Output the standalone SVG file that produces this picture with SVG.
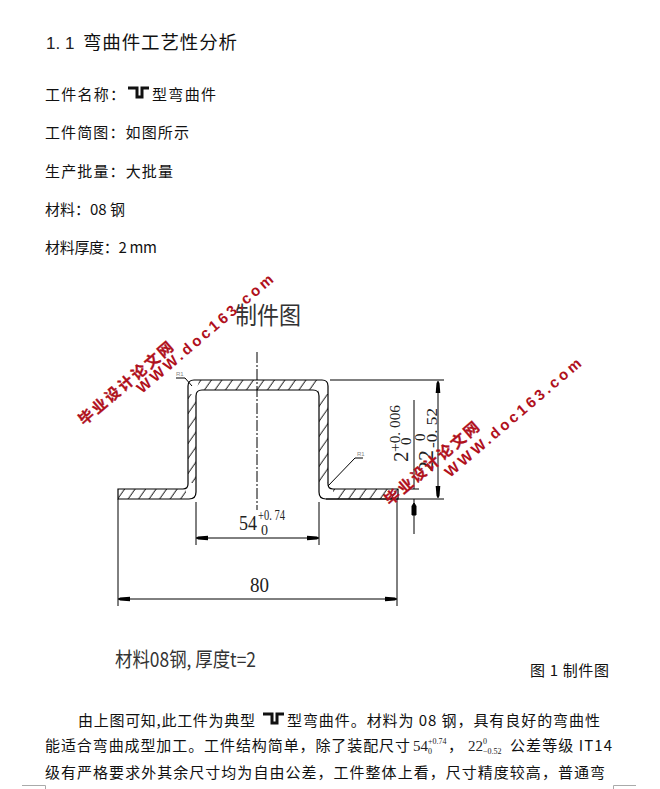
<svg xmlns="http://www.w3.org/2000/svg" width="660" height="789" viewBox="0 0 660 789">
<style>
.t{font-family:"Noto Sans CJK SC","Liberation Sans",sans-serif;font-size:15px;fill:#111}
.d{font-family:"Liberation Serif",serif;fill:#222}
.c{font-family:"Noto Sans CJK SC","Liberation Serif",serif;fill:#333}
.l{fill:none;stroke:#000;stroke-width:1}
.w1{font-family:"Noto Sans CJK SC","Liberation Sans",sans-serif;font-weight:700;font-size:15px;fill:#b0101c;stroke:#b0101c;stroke-width:.3}
.w2{font-family:"Liberation Sans",sans-serif;font-weight:700;font-size:15px;fill:#b0101c}
.ic{fill:none;stroke:#111;stroke-width:3}
.r{font-family:"Liberation Sans",sans-serif;font-size:6px;fill:#888}
</style>
<defs>
<pattern id="hatch" width="10.5" height="10" patternUnits="userSpaceOnUse" patternTransform="skewX(-35)"><line x1="5" y1="0" x2="5" y2="10" stroke="#000" stroke-width="1"/></pattern>
<marker id="arr" markerUnits="userSpaceOnUse" markerWidth="13" markerHeight="6" refX="12" refY="3" orient="auto-start-reverse"><path d="M12,3 L10,1.5 L0,0.7 L0,5.3 L10,4.5Z" fill="#000"/></marker>
<g id="icon"><path class="ic" d="M0,2 H9 V11 H14 V2 H21"/></g>
</defs>
<g id="header">
<text x="46" y="49" font-family="'Liberation Sans','Noto Sans CJK SC',sans-serif" font-size="17" fill="#222" xml:space="preserve">1. 1</text>
<text class="t" x="83" y="49" style="font-size:18.5px" textLength="154" fill="#222">弯曲件工艺性分析</text>
<text class="t" x="45" y="100" textLength="80">工件名称：</text>
<use href="#icon" x="128" y="86"/>
<text class="t" x="152" y="100" textLength="64">型弯曲件</text>
<text class="t" x="45" y="138" textLength="144">工件简图：如图所示</text>
<text class="t" x="45" y="177" textLength="128">生产批量：大批量</text>
<text class="t" x="45" y="215" textLength="80">材料：08 钢</text>
<text class="t" x="45" y="253" textLength="112">材料厚度：2 mm</text>
</g>
<g id="drawing">
<text class="c" x="235" y="324" font-size="24" textLength="66" lengthAdjust="spacingAndGlyphs">制件图</text>
<line x1="257" y1="352" x2="257" y2="510" stroke="#000" stroke-dasharray="11 2 2 2"/>
<path d="M118,489 H183 Q188,489 188,484 V386 Q188,380 194,380 H322 Q328,380 328,386 V484 Q328,489 333,489 H398 V499 H326 Q319,499 319,492 V396 Q319,390 313,390 H202 Q196,390 196,396 V492 Q196,499 189,499 H118Z" fill="url(#hatch)"/>
<path d="M188,380 H199 L196,394 H188Z M317,380 H328 V394 H319Z M188,483 H196 V499 H186 V489Z M319,483 H328 L333,489 V499 H319Z" fill="#fff"/>
<path d="M118,489 H183 Q188,489 188,484 V386 Q188,380 194,380 H322 Q328,380 328,386 V484 Q328,489 333,489 H398 V499 H326 Q319,499 319,492 V396 Q319,390 313,390 H202 Q196,390 196,396 V492 Q196,499 189,499 H118Z" fill="none" stroke="#000" stroke-width="1.2"/>
<g id="connectors" class="l">
<path class="l" d="M196,502 V545 M319,502 V545 M118,499 V606 M397,499 V606 M330,380 H444 M326,499 H444 M414,400 V489 M409,489 H419 M414,499 V534"/>
<line class="l" x1="196" y1="538" x2="319" y2="538" marker-start="url(#arr)" marker-end="url(#arr)"/>
<line class="l" x1="118" y1="599" x2="397" y2="599" marker-start="url(#arr)" marker-end="url(#arr)"/>
<line class="l" x1="438" y1="381" x2="438" y2="498" marker-start="url(#arr)" marker-end="url(#arr)"/>
<path d="M414,503 L416,506 V515 H412 V506Z" fill="#000"/>
<path class="l" d="M176,378 H185 L192,386 M363,458 H355 L328,486"/>
</g>
<text class="r" x="176" y="376">R1</text>
<text class="r" x="357" y="456">R1</text>
<text class="d" x="239" y="530" font-size="21" textLength="18" lengthAdjust="spacingAndGlyphs">54</text>
<text class="d" x="258" y="520" font-size="14" textLength="27" lengthAdjust="spacingAndGlyphs">+0. 74</text>
<text class="d" x="261" y="535" font-size="14">0</text>
<text class="d" x="250" y="592" font-size="22" textLength="19" lengthAdjust="spacingAndGlyphs">80</text>
<text class="d" transform="translate(408,462) rotate(-90)" font-size="21">2</text>
<text class="d" transform="translate(400,452) rotate(-90)" font-size="15" textLength="47" lengthAdjust="spacingAndGlyphs">+0. 006</text>
<text class="d" transform="translate(411,445) rotate(-90)" font-size="15">0</text>
<text class="d" transform="translate(433,472) rotate(-90)" font-size="21" textLength="22" lengthAdjust="spacingAndGlyphs">22</text>
<text class="d" transform="translate(425,441) rotate(-90)" font-size="15">0</text>
<text class="d" transform="translate(437,448) rotate(-90)" font-size="15" textLength="40" lengthAdjust="spacingAndGlyphs">-0. 52</text>
<text class="c" x="115" y="667" font-size="20" textLength="141" lengthAdjust="spacingAndGlyphs">材料08钢, 厚度t=2</text>
<text class="t" x="530" y="676" textLength="79">图 1 制件图</text>
</g>
<g id="watermark1"><text class="w1" transform="translate(84,426) rotate(-40.5)" textLength="119">毕业设计论文网</text><text class="w2" transform="translate(142,394) rotate(-40.5)" textLength="174">WWW.doc163.com</text></g>
<g id="watermark2"><text class="w1" transform="translate(390,506) rotate(-40.5)" textLength="119">毕业设计论文网</text><text class="w2" transform="translate(450,478) rotate(-40.5)" textLength="174">WWW.doc163.com</text></g>
<g id="paragraph">
<text class="t" x="78" y="726" textLength="177">由上图可知,此工件为典型</text>
<use href="#icon" x="263" y="712"/>
<text class="t" x="287" y="726" textLength="313">型弯曲件。材料为 08 钢，具有良好的弯曲性</text>
<text class="t" x="45" y="751" textLength="365">能适合弯曲成型加工。工件结构简单，除了装配尺寸</text>
<text class="d" x="413" y="751" font-size="15">54</text>
<text class="d" x="428" y="744" font-size="8">+0.74</text>
<text class="d" x="428" y="754" font-size="8">0</text>
<text class="t" x="448" y="751">，</text>
<text class="d" x="468" y="751" font-size="15">22</text>
<text class="d" x="483" y="744" font-size="8">0</text>
<text class="d" x="483" y="754" font-size="8">−0.52</text>
<text class="t" x="510" y="751" textLength="102">公差等级 IT14</text>
<text class="t" x="45" y="778" textLength="560">级有严格要求外其余尺寸均为自由公差，工件整体上看，尺寸精度较高，普通弯</text>
</g>
<path id="crop" d="M22,785.5 H45.5 V789 M613.5,789 V785.5 H636" fill="none" stroke="#aaa"/>
</svg>
